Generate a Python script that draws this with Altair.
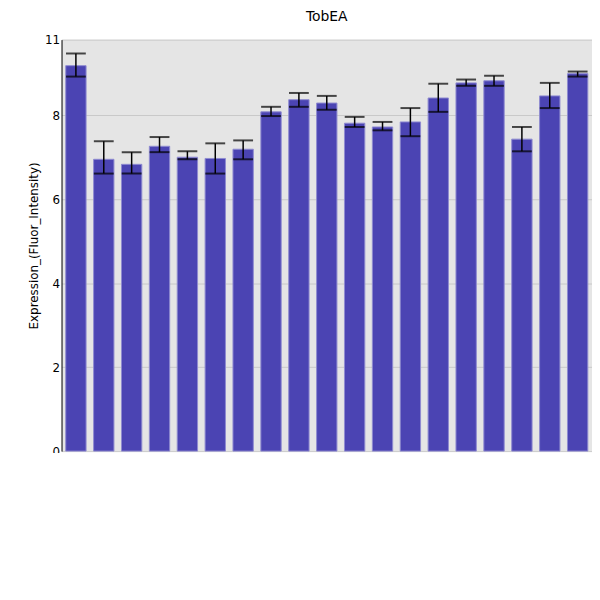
import altair as alt
import pandas as pd

experiments = ["Seed", "Early_senescent_leaf", "Late_senescent_leaf", "Mature_leaf",
               "Mid/early_senescent_leaf", "Mid/late_senescent_leaf", "Cauline_leaf",
               "Young_leaf", "Young_root", "Mature_root", "Cotyledons", "Lower_stem",
               "Upper_stem", "Flower", "Closed_bud", "Open_bud", "Young_shoot",
               "Vegetative_shoot_apex", "Floral_shoot_apex"]
values = [9.18, 6.95, 6.83, 7.26, 7.0, 6.97, 7.19, 8.08, 8.37, 8.29, 7.81, 7.72,
          7.84, 8.41, 8.77, 8.82, 7.43, 8.46, 8.99]
err_hi = [9.47, 7.38, 7.12, 7.48, 7.14, 7.33, 7.4, 8.2, 8.53, 8.46, 7.96, 7.84,
          8.17, 8.75, 8.85, 8.94, 7.72, 8.77, 9.04]
err_lo = [8.92, 6.61, 6.61, 7.12, 6.95, 6.61, 6.95, 7.98, 8.2, 8.13, 7.72, 7.64,
          7.5, 8.08, 8.7, 8.7, 7.14, 8.17, 8.92]

df = pd.DataFrame({"exp": experiments, "val": values, "hi": err_hi, "lo": err_lo})

x = alt.X("exp:N", sort=experiments, title="Experiment",
          scale=alt.Scale(paddingInner=0.27, paddingOuter=0.15),
          axis=alt.Axis(labelAngle=90, labelFontSize=8, labelAlign="left",
                        labelBaseline="middle", titleFontWeight="normal",
                        titleFontSize=12, titlePadding=8, domain=False, ticks=False,
                        labelPadding=6))
yscale = alt.Scale(domain=[0, 9.8], nice=False)
ytitle = "Expression_(Fluor_Intensity)"

bars = alt.Chart(df).mark_bar(color="#4B44B3", stroke="#8F8BD0", strokeWidth=1).encode(
    x=x,
    y=alt.Y("val:Q", title=ytitle, scale=yscale,
            axis=alt.Axis(values=[0, 2, 4, 6, 8, 9.8],
                          labelExpr="datum.value > 9 ? '11' : datum.label",
                          labelFontSize=12, titleFontSize=12,
                          titleFontWeight="normal", ticks=False,
                          domainColor="black", gridColor="#C8C8C8")),
)
rule = alt.Chart(df).mark_rule(color="black", strokeWidth=1.5).encode(
    x=alt.X("exp:N", sort=experiments),
    y=alt.Y("lo:Q", scale=yscale, title=ytitle),
    y2="hi:Q",
)
tick_hi = alt.Chart(df).mark_tick(color="black", thickness=2, size=20, orient="horizontal").encode(
    x=alt.X("exp:N", sort=experiments),
    y=alt.Y("hi:Q", scale=yscale, title=ytitle),
)
tick_lo = alt.Chart(df).mark_tick(color="black", thickness=2, size=20, orient="horizontal").encode(
    x=alt.X("exp:N", sort=experiments),
    y=alt.Y("lo:Q", scale=yscale, title=ytitle),
)

chart = (bars + rule + tick_hi + tick_lo).properties(
    width=535, height=415,
    title=alt.Title("TobEA", fontSize=14, fontWeight="normal", offset=10),
    padding={"left": 54, "top": 30, "right": 0, "bottom": 0},
    autosize=alt.AutoSizeParams(type="none"),
).configure_view(fill="#E5E5E5", stroke=None).configure_axis(
    labelFont="DejaVu Sans", titleFont="DejaVu Sans", labelColor="black",
    titleColor="black", gridColor="#C8C8C8"
).configure_title(font="DejaVu Sans", color="black")

chart.save("out.html", embed_options={"renderer": "svg", "actions": False})
